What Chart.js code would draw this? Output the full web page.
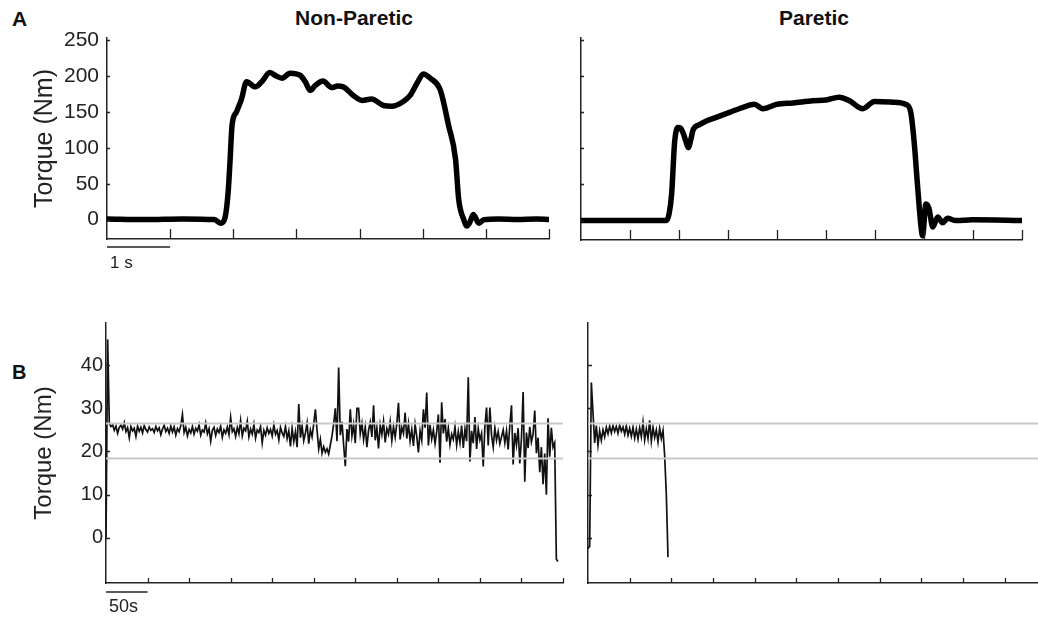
<!DOCTYPE html>
<html>
<head>
<meta charset="utf-8">
<script src="https://cdn.jsdelivr.net/npm/chart.js@4.4.1/dist/chart.umd.min.js"></script>
<style>
  body { margin: 0; background: #fff; width: 1038px; height: 617px; position: relative; overflow: hidden;
         font-family: "Liberation Sans", Arial, sans-serif; }
  canvas { position: absolute; }
  .lbl { position: absolute; font-weight: bold; color: #111; white-space: nowrap; line-height: 24px; }
  .ttl { position: absolute; width: 200px; text-align: center; font-weight: bold; color: #111;
         font-size: 21px; line-height: 24px; }
</style>
</head>
<body>
<div class="lbl" style="left:12px;top:7px;font-size:21px">A</div>
<div class="lbl" style="left:12px;top:360px;font-size:20px">B</div>
<div class="ttl" style="left:254px;top:6px">Non-Paretic</div>
<div class="ttl" style="left:714px;top:6px">Paretic</div>

<canvas id="aNon" width="560" height="270" style="left:0;top:0"></canvas>
<canvas id="aPar" width="478" height="270" style="left:560px;top:0"></canvas>
<canvas id="bNon" width="575" height="317" style="left:0;top:300px"></canvas>
<canvas id="bPar" width="463" height="317" style="left:575px;top:300px"></canvas>

<script>
// A: single contraction, time (s) and torque (Nm)
const aNonTime = [0, 0.6, 1.2, 1.7, 1.8, 1.87, 1.92, 1.95, 1.98, 2.05,
  2.13, 2.21, 2.35, 2.45, 2.58, 2.68, 2.77, 2.9, 3.06, 3.14,
  3.22, 3.3, 3.42, 3.56, 3.65, 3.74, 3.9, 4.04, 4.19, 4.38,
  4.51, 4.7, 4.8, 4.91, 5.01, 5.12, 5.28, 5.41, 5.52, 5.57,
  5.65, 5.7, 5.74, 5.8, 5.89, 5.97, 6.2, 6.5, 6.8, 7.0];
const aNonTorque = [1, 0, 1, 0, -5, 3, 40, 84, 131, 150,
  168, 192, 185, 192, 205, 200, 197, 204, 201, 192,
  180, 187, 193, 184, 186, 185, 173, 166, 168, 159,
  158, 165, 173, 190, 203, 197, 180, 131, 84, 28,
  0, -9, -5, 7, -5, 0, 1, 0, 1, 0];

const aParTime = [0, 1.0, 1.745, 1.8, 1.85, 1.91, 1.98, 2.03, 2.08, 2.14,
  2.19, 2.24, 2.29, 2.42, 2.56, 2.76, 3.03, 3.31, 3.54, 3.71,
  3.99, 4.33, 4.73, 5.0, 5.27, 5.48, 5.75, 5.99, 6.36, 6.63,
  6.73, 6.8, 6.87, 6.94, 6.97, 7.04, 7.1, 7.18, 7.28, 7.38,
  7.48, 7.65, 8.0, 9.0];
const aParTorque = [0, 0, 0, 10, 37, 108, 129, 128, 122, 110,
  101, 112, 126, 133, 138, 143, 150, 157, 161, 155,
  161, 163, 166, 167, 171, 166, 155, 165, 164, 161,
  150, 108, 47, -9, -21, 23, 17, -9, 5, -3,
  3, 0, 1, 0];

const aYTicks = [0, 50, 100, 150, 200, 250];
const aNonSeconds = [0, 1, 2, 3, 4, 5, 6, 7];
const aParSeconds = [0, 1, 2, 3, 4, 5, 6, 7, 8, 9];

// B: sustained contraction, one sample every bStep seconds
const bStep = 2;
const bNonTorque = [
  0, 46, 26.5, 25.8, 26.2, 24.9, 25.9, 24.2, 25.6, 26.1,
  25.2, 26.7, 24.6, 25.5, 23.2, 25.8, 24.8, 25.4, 23.5, 25.9,
  24.7, 25.6, 24.3, 26.0, 25.1, 24.5, 25.7, 24.9, 25.3, 24.4,
  25.8, 24.8, 25.5, 23.9, 25.2, 26.1, 24.6, 25.4, 24.2, 25.9,
  24.5, 25.7, 23.8, 25.3, 24.6, 26.0, 28.6, 24.4, 25.6, 23.6,
  25.1, 24.3, 25.8, 24.0, 25.4, 24.7, 26.2, 23.8, 25.0, 24.5,
  26.6, 24.1, 25.3, 22.4, 24.9, 25.6, 23.7, 25.2, 24.4, 25.9,
  23.3, 25.0, 24.2, 25.7, 23.9, 27.9, 24.6, 25.3, 23.5, 25.6,
  24.1, 27.2, 23.6, 25.4, 24.8, 27.0, 23.4, 25.2, 24.0, 26.3,
  23.1, 25.0, 24.4, 25.8, 22.0, 24.9, 23.8, 25.5, 24.2, 25.1,
  23.6, 26.2, 24.0, 24.9, 22.7, 25.6, 24.3, 23.5, 25.8, 23.0,
  24.8, 21.2, 25.4, 22.3, 24.6, 21.0, 31.0, 23.2, 25.9, 22.5,
  24.3, 26.6, 21.8, 25.0, 23.4, 26.4, 29.8, 24.9, 20.6, 22.8,
  19.6, 21.1, 19.8, 20.6, 19.4, 21.5, 23.6, 26.4, 30.0, 22.4,
  39.5, 23.8, 26.9, 21.5, 16.6, 25.2, 22.3, 29.8, 23.6, 26.3,
  21.9, 30.0, 30.0, 24.1, 26.5, 22.8, 25.7, 21.0, 24.9, 26.8,
  23.4, 30.7, 22.6, 25.5, 20.7, 26.2, 23.9, 27.0, 22.1, 25.3,
  24.0, 26.9, 22.5, 25.8, 23.3, 26.5, 31.3, 22.8, 25.6, 24.2,
  29.0, 23.0, 26.4, 22.4, 25.1, 21.3, 26.3, 23.5, 19.8, 24.8,
  22.6, 29.8, 25.5, 33.7, 21.4, 26.2, 22.9, 25.0, 21.8, 24.6,
  28.6, 17.4, 31.4, 24.2, 27.5, 22.3, 25.4, 21.6, 24.0, 22.8,
  25.7, 21.5, 24.6, 22.0, 26.0, 20.8, 25.2, 22.4, 37.2, 17.7,
  24.8, 21.9, 28.0, 20.6, 25.3, 22.7, 24.2, 16.5, 25.8, 30.2,
  21.4, 30.2, 23.8, 21.0, 25.5, 22.6, 24.6, 21.8, 23.4, 25.0,
  22.0, 24.8, 20.5, 26.1, 30.7, 17.0, 24.3, 21.5, 25.4, 17.2,
  23.0, 33.8, 13.0, 24.4, 20.8, 25.7, 22.2, 24.0, 29.5, 19.6,
  23.2, 15.2, 21.0, 12.4, 19.5, 10.0, 27.7, 18.8, 25.5, 21.0,
  22.0, -5.0, -5.5];
const bParTorque = [
  -2.5, -2.0, 36, 29, 22, 26,
  21.5, 24.8, 22.6, 25.0, 23.4, 25.6, 24.1, 25.9, 24.3, 26.0,
  24.6, 25.8, 24.2, 26.1, 24.7, 25.7, 24.0, 25.9, 23.8, 25.4,
  23.5, 25.6, 23.1, 25.2, 22.9, 25.5, 23.4, 26.8, 22.7, 25.3,
  23.0, 27.2, 22.4, 25.6, 23.2, 25.0, 22.2, 25.4, 23.0, 24.9,
  19, 10, -4.5];
const bBand = [26.5, 18.4];
const bYTicks = [0, 10, 20, 30, 40];
const bNonSeconds = [0, 50, 100, 150, 200, 250, 300, 350, 400, 450, 500, 550];
const bParSeconds = [0, 50, 100, 150, 200, 250, 300, 350, 400, 450, 500];

const FONT = '"Liberation Sans", Arial, sans-serif';
const INK = '#222';

// inward tick marks + time scale bar, placed through the chart scales
const tickMarks = {
  id: 'tickMarks',
  afterDatasetsDraw(chart, args, o) {
    const { ctx, chartArea: area, scales: { x, y } } = chart;
    ctx.save();
    ctx.strokeStyle = INK;
    ctx.lineWidth = 1.3;
    ctx.beginPath();
    x.ticks.forEach(t => {
      if (t.value === x.min) return;
      const px = Math.round(x.getPixelForValue(t.value)) + 0.5;
      ctx.moveTo(px, area.bottom);
      ctx.lineTo(px, area.bottom - o.xLen);
    });
    y.ticks.forEach(t => {
      const py = Math.round(y.getPixelForValue(t.value)) + 0.5;
      ctx.moveTo(area.left, py);
      ctx.lineTo(area.left + o.yLen, py);
    });
    ctx.stroke();
    if (o.bar) {
      const x0 = x.getPixelForValue(0), x1 = x.getPixelForValue(o.bar.len);
      const by = area.bottom + o.bar.gap;
      ctx.lineWidth = 1.6;
      ctx.beginPath(); ctx.moveTo(x0, by); ctx.lineTo(x1, by); ctx.stroke();
      ctx.fillStyle = INK;
      ctx.font = o.bar.size + 'px ' + FONT;
      ctx.textBaseline = 'middle';
      ctx.fillText(o.bar.label, x0 + 3, by + o.bar.textGap);
    }
    ctx.restore();
  }
};

function panel(id, datasets, c) {
  new Chart(document.getElementById(id), {
    type: 'line',
    data: { datasets },
    plugins: [tickMarks],
    options: {
      responsive: false,
      animation: false,
      devicePixelRatio: 1,
      layout: { padding: { top: c.top, right: c.right, left: 0, bottom: 0 } },
      plugins: { legend: { display: false }, tooltip: { enabled: false }, tickMarks: c.marks },
      elements: { point: { radius: 0 } },
      scales: {
        x: {
          type: 'linear', min: 0, max: c.xMax,
          afterBuildTicks: s => { s.ticks = c.xTicks.map(v => ({ value: v })); },
          afterFit: s => { s.height = c.xHeight; },
          grid: { display: false, drawTicks: false },
          border: { display: true, color: INK, width: 1.5 },
          ticks: { display: false }
        },
        y: {
          type: 'linear', min: c.yMin, max: c.yMax,
          afterBuildTicks: s => { s.ticks = c.yTicks.map(v => ({ value: v })); },
          afterFit: s => { s.width = c.yWidth; },
          grid: { display: false, drawTicks: false },
          border: { display: true, color: INK, width: 1.5 },
          ticks: { display: c.labels, padding: c.tickPad, color: INK, font: { family: FONT, size: c.tickSize } },
          title: { display: c.labels, text: 'Torque (Nm)', color: INK,
                   font: { family: FONT, size: c.titleSize }, padding: { top: c.titlePad, bottom: 0 } }
        }
      }
    }
  });
}

const pts = (xs, ys) => ys.map((v, i) => ({ x: xs[i], y: v }));
const sampled = ys => ys.map((v, i) => ({ x: i * bStep, y: v }));
const thick = data => ({ data, borderColor: '#000', borderWidth: 5.5, borderCapStyle: 'round',
                         borderJoinStyle: 'round', cubicInterpolationMode: 'monotone' });
const thin = data => ({ data, borderColor: '#111', borderWidth: 1.7, tension: 0 });
const band = (v, xMax) => ({ data: [{ x: 0, y: v }, { x: xMax, y: v }], borderColor: '#c9c9c9', borderWidth: 2 });

panel('aNon', [thick(pts(aNonTime, aNonTorque))], {
  top: 38, right: 11, xMax: 7, xTicks: aNonSeconds, xHeight: 31, yMin: -27, yMax: 253, yTicks: aYTicks,
  yWidth: 107, labels: true, tickSize: 21, tickPad: 8, titleSize: 25, titlePad: 30,
  marks: { xLen: 10, yLen: 3, bar: { len: 1, label: '1 s', gap: 8, textGap: 16, size: 17 } }
});
panel('aPar', [thick(pts(aParTime, aParTorque))], {
  top: 38, right: 16, xMax: 9, xTicks: aParSeconds, xHeight: 30, yMin: -27, yMax: 253, yTicks: aYTicks,
  yWidth: 21, labels: false, marks: { xLen: 10, yLen: 3 }
});
panel('bNon', [band(bBand[0], 550), band(bBand[1], 550), thin(sampled(bNonTorque))], {
  top: 23, right: 12, xMax: 550, xTicks: bNonSeconds, xHeight: 34, yMin: -10.5, yMax: 49.8, yTicks: bYTicks,
  yWidth: 106, labels: true, tickSize: 20, tickPad: 3, titleSize: 24, titlePad: 30,
  marks: { xLen: 5, yLen: 4, bar: { len: 50, label: '50s', gap: 9, textGap: 15, size: 18 } }
});
panel('bPar', [band(bBand[0], 540), band(bBand[1], 540), thin(sampled(bParTorque))], {
  top: 23, right: 0, xMax: 540, xTicks: bParSeconds, xHeight: 34, yMin: -10.5, yMax: 49.8, yTicks: bYTicks,
  yWidth: 13, labels: false, marks: { xLen: 5, yLen: 4 }
});
</script>
</body>
</html>
